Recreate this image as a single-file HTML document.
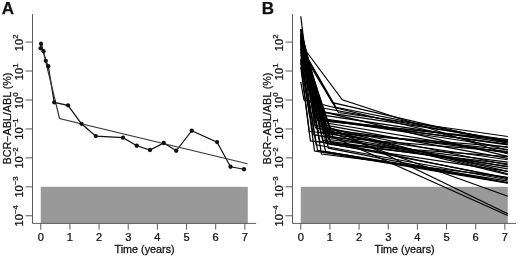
<!DOCTYPE html>
<html><head><meta charset="utf-8"><title>fig</title>
<style>
html,body{margin:0;padding:0;background:#fff;overflow:hidden;}
text{stroke:#111;stroke-width:0.25px;}
svg{filter:grayscale(1);display:block;position:absolute;left:0;top:0;font-family:"Liberation Sans",sans-serif;fill:#111;}
</style></head><body>
<svg width="520" height="260" viewBox="0 0 520 260">
<rect width="520" height="260" fill="#fff"/>
<g transform="translate(0,0)">
<rect x="40.75" y="186.83" width="207.04" height="36.57" fill="#999"/>
<path d="M41.00 43.80 L40.60 48.30 L43.50 51.20 L45.80 60.80 L48.30 66.20 L54.20 102.40 L68.00 105.30 L81.50 123.80 L95.80 136.10 L123.00 137.70 L136.75 145.75 L150.00 150.00 L163.75 143.00 L176.25 150.75 L191.75 130.75 L217.10 142.10 L230.50 166.75 L244.00 169.25" fill="none" stroke="#111" stroke-width="1.2"/>
<path d="M40.9 41.5 L59.5 118.5 L247.5 163.75" fill="none" stroke="#3a3a3a" stroke-width="1.25"/>
<circle cx="41.00" cy="43.80" r="2.15" fill="#111"/>
<circle cx="40.60" cy="48.30" r="2.15" fill="#111"/>
<circle cx="43.50" cy="51.20" r="2.15" fill="#111"/>
<circle cx="45.80" cy="60.80" r="2.15" fill="#111"/>
<circle cx="48.30" cy="66.20" r="2.15" fill="#111"/>
<circle cx="54.20" cy="102.40" r="2.15" fill="#111"/>
<circle cx="68.00" cy="105.30" r="2.15" fill="#111"/>
<circle cx="81.50" cy="123.80" r="2.15" fill="#111"/>
<circle cx="95.80" cy="136.10" r="2.15" fill="#111"/>
<circle cx="123.00" cy="137.70" r="2.15" fill="#111"/>
<circle cx="136.75" cy="145.75" r="2.15" fill="#111"/>
<circle cx="150.00" cy="150.00" r="2.15" fill="#111"/>
<circle cx="163.75" cy="143.00" r="2.15" fill="#111"/>
<circle cx="176.25" cy="150.75" r="2.15" fill="#111"/>
<circle cx="191.75" cy="130.75" r="2.15" fill="#111"/>
<circle cx="217.10" cy="142.10" r="2.15" fill="#111"/>
<circle cx="230.50" cy="166.75" r="2.15" fill="#111"/>
<circle cx="244.00" cy="169.25" r="2.15" fill="#111"/>
<g stroke="#5c5c5c" stroke-width="1" fill="none">
<path d="M32.5 14V223.4H256.1"/>
<path d="M25.6 215.78H32.5"/>
<path d="M25.6 186.83H32.5"/>
<path d="M25.6 157.88H32.5"/>
<path d="M25.6 128.93H32.5"/>
<path d="M25.6 99.98H32.5"/>
<path d="M25.6 71.03H32.5"/>
<path d="M25.6 42.08H32.5"/>
<path d="M40.75 223.4V229.7"/>
<path d="M69.91 223.4V229.7"/>
<path d="M99.07 223.4V229.7"/>
<path d="M128.23 223.4V229.7"/>
<path d="M157.39 223.4V229.7"/>
<path d="M186.55 223.4V229.7"/>
<path d="M215.71 223.4V229.7"/>
<path d="M244.87 223.4V229.7"/>
</g>
<text x="1.8" y="13.6" font-size="17" font-weight="bold">A</text>
<text transform="translate(40.75,240.9) scale(1.1,1)" font-size="10.1" text-anchor="middle">0</text>
<text transform="translate(69.91,240.9) scale(1.1,1)" font-size="10.1" text-anchor="middle">1</text>
<text transform="translate(99.07,240.9) scale(1.1,1)" font-size="10.1" text-anchor="middle">2</text>
<text transform="translate(128.23,240.9) scale(1.1,1)" font-size="10.1" text-anchor="middle">3</text>
<text transform="translate(157.39,240.9) scale(1.1,1)" font-size="10.1" text-anchor="middle">4</text>
<text transform="translate(186.55,240.9) scale(1.1,1)" font-size="10.1" text-anchor="middle">5</text>
<text transform="translate(215.71,240.9) scale(1.1,1)" font-size="10.1" text-anchor="middle">6</text>
<text transform="translate(244.87,240.9) scale(1.1,1)" font-size="10.1" text-anchor="middle">7</text>
<text transform="translate(144.6,253.1) scale(1.07,1)" font-size="10.1" text-anchor="middle">Time (years)</text>
<text transform="translate(23.0,215.88) rotate(-90) scale(1.1,1)" font-size="10.1" text-anchor="middle">10<tspan dy="-5.5" font-size="7.1">−4</tspan></text>
<text transform="translate(23.0,186.93) rotate(-90) scale(1.1,1)" font-size="10.1" text-anchor="middle">10<tspan dy="-5.5" font-size="7.1">−3</tspan></text>
<text transform="translate(23.0,157.98) rotate(-90) scale(1.1,1)" font-size="10.1" text-anchor="middle">10<tspan dy="-5.5" font-size="7.1">−2</tspan></text>
<text transform="translate(23.0,129.03) rotate(-90) scale(1.1,1)" font-size="10.1" text-anchor="middle">10<tspan dy="-5.5" font-size="7.1">−1</tspan></text>
<text transform="translate(23.0,100.73) rotate(-90) scale(1.1,1)" font-size="10.1" text-anchor="middle">10<tspan dy="-5.5" font-size="7.1">0</tspan></text>
<text transform="translate(23.0,71.78) rotate(-90) scale(1.1,1)" font-size="10.1" text-anchor="middle">10<tspan dy="-5.5" font-size="7.1">1</tspan></text>
<text transform="translate(23.0,42.83) rotate(-90) scale(1.1,1)" font-size="10.1" text-anchor="middle">10<tspan dy="-5.5" font-size="7.1">2</tspan></text>
<text transform="translate(10.8,118.5) rotate(-90) scale(1.065,1)" font-size="10.1" text-anchor="middle">BCR−ABL/ABL (%)</text>
</g>
<g transform="translate(260,0)">
<rect x="40.75" y="186.83" width="207.04" height="36.57" fill="#999"/>
<g fill="none" stroke="#000" stroke-width="1.2" stroke-linejoin="miter">
<path d="M40.75 34.45L62.71 108.09L247.79 141.57"/>
<path d="M40.75 33.11L60.27 111.65L247.79 139.78"/>
<path d="M40.75 42.15L62.73 111.67L247.79 156.33"/>
<path d="M40.75 54.76L54.70 113.94L247.79 142.96"/>
<path d="M40.75 59.41L49.70 116.88L247.79 144.79"/>
<path d="M40.75 36.37L60.30 119.32L247.79 147.47"/>
<path d="M40.75 29.73L63.01 120.05L247.79 140.61"/>
<path d="M40.75 34.62L62.16 120.33L247.79 144.04"/>
<path d="M40.75 36.63L57.54 120.34L247.79 139.49"/>
<path d="M40.75 42.98L68.18 123.34L247.79 153.15"/>
<path d="M40.75 30.47L65.49 125.18L247.79 158.34"/>
<path d="M40.75 40.02L60.39 125.92L247.79 173.72"/>
<path d="M40.75 39.81L55.39 127.68L247.79 171.41"/>
<path d="M40.75 40.09L65.14 129.11L247.79 152.29"/>
<path d="M40.75 38.22L62.93 129.58L247.79 174.67"/>
<path d="M40.75 62.45L49.28 131.53L247.79 146.79"/>
<path d="M40.75 42.70L63.26 131.55L247.79 149.59"/>
<path d="M40.75 38.26L58.42 132.44L247.79 159.73"/>
<path d="M40.75 60.64L53.32 134.69L247.79 168.90"/>
<path d="M40.75 28.97L66.71 135.55L247.79 166.83"/>
<path d="M40.75 41.05L70.36 137.30L247.79 151.47"/>
<path d="M40.75 43.52L68.74 139.56L247.79 162.20"/>
<path d="M40.75 49.10L62.68 140.46L247.79 166.43"/>
<path d="M40.75 67.09L50.41 140.96L247.79 163.89"/>
<path d="M40.75 52.48L59.94 141.65L247.79 177.72"/>
<path d="M40.75 34.85L70.57 142.13L247.79 178.66"/>
<path d="M40.75 40.38L66.05 143.27L247.79 156.63"/>
<path d="M40.75 41.58L68.16 143.99L247.79 171.31"/>
<path d="M40.75 45.30L56.11 144.81L247.79 179.77"/>
<path d="M40.75 29.08L68.38 148.20L247.79 182.99"/>
<path d="M40.75 58.46L57.64 150.38L247.79 181.04"/>
<path d="M40.75 48.73L54.49 150.91L247.79 183.26"/>
<path d="M40.75 43.45L65.70 151.68L247.79 182.68"/>
<path d="M40.75 32.07L61.51 154.02L247.79 177.32"/>
<path d="M40.75 16.20L54.35 125.00L247.79 165.00"/>
<path d="M40.75 44.00L82.30 99.80L247.79 154.00"/>
<path d="M40.75 47.00L72.60 102.70L247.79 143.00"/>
<path d="M40.75 46.00L76.00 107.30L247.79 141.60"/>
<path d="M40.75 50.00L78.40 112.50L247.79 136.50"/>
<path d="M40.75 40.00L70.00 127.50L247.79 213.75"/>
<path d="M40.75 52.00L73.00 137.00L247.79 215.50"/>
<path d="M40.75 48.00L68.00 131.60L247.79 196.25"/>
<path d="M40.75 82.00L44.00 100.00L247.79 150.00"/>
</g>
<g stroke="#5c5c5c" stroke-width="1" fill="none">
<path d="M32.5 14V223.4H256.1"/>
<path d="M25.6 215.78H32.5"/>
<path d="M25.6 186.83H32.5"/>
<path d="M25.6 157.88H32.5"/>
<path d="M25.6 128.93H32.5"/>
<path d="M25.6 99.98H32.5"/>
<path d="M25.6 71.03H32.5"/>
<path d="M25.6 42.08H32.5"/>
<path d="M40.75 223.4V229.7"/>
<path d="M69.91 223.4V229.7"/>
<path d="M99.07 223.4V229.7"/>
<path d="M128.23 223.4V229.7"/>
<path d="M157.39 223.4V229.7"/>
<path d="M186.55 223.4V229.7"/>
<path d="M215.71 223.4V229.7"/>
<path d="M244.87 223.4V229.7"/>
</g>
<text x="1.8" y="13.6" font-size="17" font-weight="bold">B</text>
<text transform="translate(40.75,240.9) scale(1.1,1)" font-size="10.1" text-anchor="middle">0</text>
<text transform="translate(69.91,240.9) scale(1.1,1)" font-size="10.1" text-anchor="middle">1</text>
<text transform="translate(99.07,240.9) scale(1.1,1)" font-size="10.1" text-anchor="middle">2</text>
<text transform="translate(128.23,240.9) scale(1.1,1)" font-size="10.1" text-anchor="middle">3</text>
<text transform="translate(157.39,240.9) scale(1.1,1)" font-size="10.1" text-anchor="middle">4</text>
<text transform="translate(186.55,240.9) scale(1.1,1)" font-size="10.1" text-anchor="middle">5</text>
<text transform="translate(215.71,240.9) scale(1.1,1)" font-size="10.1" text-anchor="middle">6</text>
<text transform="translate(244.87,240.9) scale(1.1,1)" font-size="10.1" text-anchor="middle">7</text>
<text transform="translate(144.6,253.1) scale(1.07,1)" font-size="10.1" text-anchor="middle">Time (years)</text>
<text transform="translate(23.0,215.88) rotate(-90) scale(1.1,1)" font-size="10.1" text-anchor="middle">10<tspan dy="-5.5" font-size="7.1">−4</tspan></text>
<text transform="translate(23.0,186.93) rotate(-90) scale(1.1,1)" font-size="10.1" text-anchor="middle">10<tspan dy="-5.5" font-size="7.1">−3</tspan></text>
<text transform="translate(23.0,157.98) rotate(-90) scale(1.1,1)" font-size="10.1" text-anchor="middle">10<tspan dy="-5.5" font-size="7.1">−2</tspan></text>
<text transform="translate(23.0,129.03) rotate(-90) scale(1.1,1)" font-size="10.1" text-anchor="middle">10<tspan dy="-5.5" font-size="7.1">−1</tspan></text>
<text transform="translate(23.0,100.73) rotate(-90) scale(1.1,1)" font-size="10.1" text-anchor="middle">10<tspan dy="-5.5" font-size="7.1">0</tspan></text>
<text transform="translate(23.0,71.78) rotate(-90) scale(1.1,1)" font-size="10.1" text-anchor="middle">10<tspan dy="-5.5" font-size="7.1">1</tspan></text>
<text transform="translate(23.0,42.83) rotate(-90) scale(1.1,1)" font-size="10.1" text-anchor="middle">10<tspan dy="-5.5" font-size="7.1">2</tspan></text>
<text transform="translate(10.8,118.5) rotate(-90) scale(1.065,1)" font-size="10.1" text-anchor="middle">BCR−ABL/ABL (%)</text>
</g>
</svg>
</body></html>
